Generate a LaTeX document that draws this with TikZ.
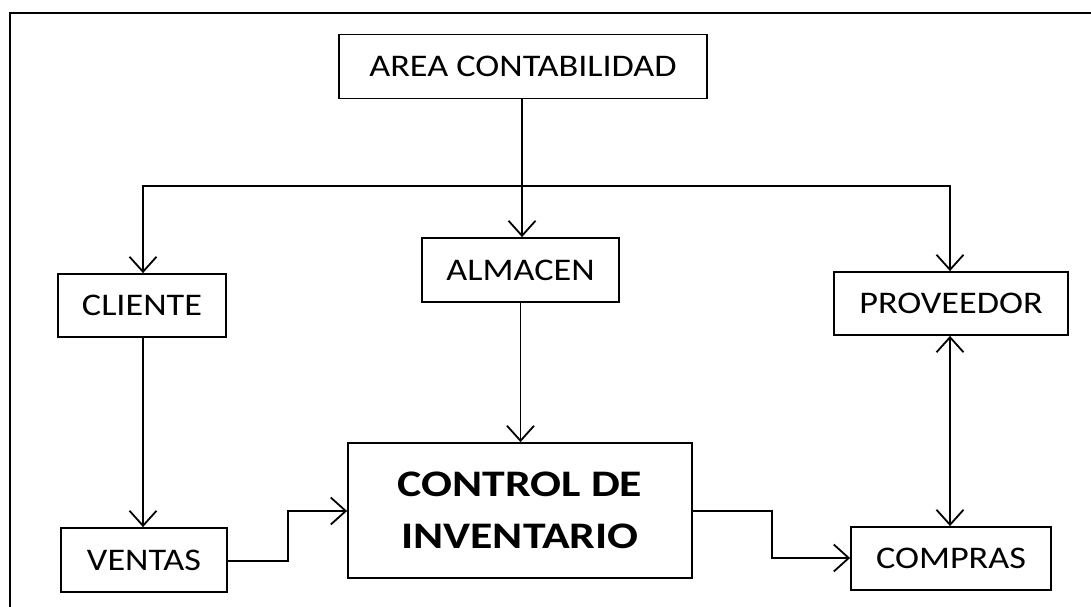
\documentclass[tikz,border=0pt]{standalone}
\usepackage{fontspec}
\setmainfont{Carlito}[FakeStretch=1.15]
\newfontfamily\ctlfont{Carlito}[FakeStretch=1.22]
\usetikzlibrary{arrows.meta}
\begin{document}
\begin{tikzpicture}[x=1pt,y=-1pt,
  box/.style={draw, line width=1.8pt, rectangle, inner sep=0pt, align=center,
    font=\fontsize{31.5}{36}\selectfont},
  conn/.style={line width=1.8pt, -{Straight Barb[length=15pt,width=27pt,line width=1.8pt]}},
  both/.style={line width=1.8pt, {Straight Barb[length=15pt,width=27pt,line width=1.8pt]}-{Straight Barb[length=15pt,width=27pt,line width=1.8pt]}}
]
\useasboundingbox (0,0) rectangle (1091,607);
\clip (0,0) rectangle (1091,607);
\fill[white] (0,0) rectangle (1091,607);
\draw[line width=1.8pt] (10,640) -- (10,13) -- (1120,13);

\node[box, minimum width=368pt, minimum height=64pt] (area) at (523,66.5) {AREA CONTABILIDAD};
\node[box, minimum width=197pt, minimum height=64pt] (almacen) at (520.5,270) {ALMACEN};
\node[box, minimum width=168pt, minimum height=63pt] (cliente) at (142,305.5) {CLIENTE};
\node[box, minimum width=234pt, minimum height=63pt] (proveedor) at (951,303.5) {PROVEEDOR};
\node[box, minimum width=344pt, minimum height=135pt, font=\ctlfont\bfseries\fontsize{37.5}{52}\selectfont] (control) at (520,510.5) {CONTROL DE\\INVENTARIO};
\node[box, minimum width=166pt, minimum height=64pt] (ventas) at (144,560) {VENTAS};
\node[box, minimum width=200pt, minimum height=63pt] (compras) at (951,558.5) {COMPRAS};

\coordinate (junc) at (522,186);
\coordinate (hl) at (143,186);
\coordinate (hr) at (950,186);
\draw[conn] (area.south -| junc) -- (junc |- almacen.north);
\draw[conn] (hr) -- (hl) -- (hl |- cliente.north);
\draw[conn] (hl) -- (hr) -- (hr |- proveedor.north);
\draw[conn] (cliente.south -| hl) -- (hl |- ventas.north);
\draw[conn] (almacen.south) -- (almacen.south |- control.north);
\coordinate (v1) at (288,561);
\draw[conn] (ventas.east |- v1) -- (v1) -- (288,511) -- (control.west |- 0,511);
\coordinate (c1) at (772,511);
\draw[conn] (control.east |- c1) -- (c1) -- (772,558) -- (compras.west |- 0,558);
\draw[both] (proveedor.south -| hr) -- (hr |- compras.north);
\end{tikzpicture}
\end{document}
